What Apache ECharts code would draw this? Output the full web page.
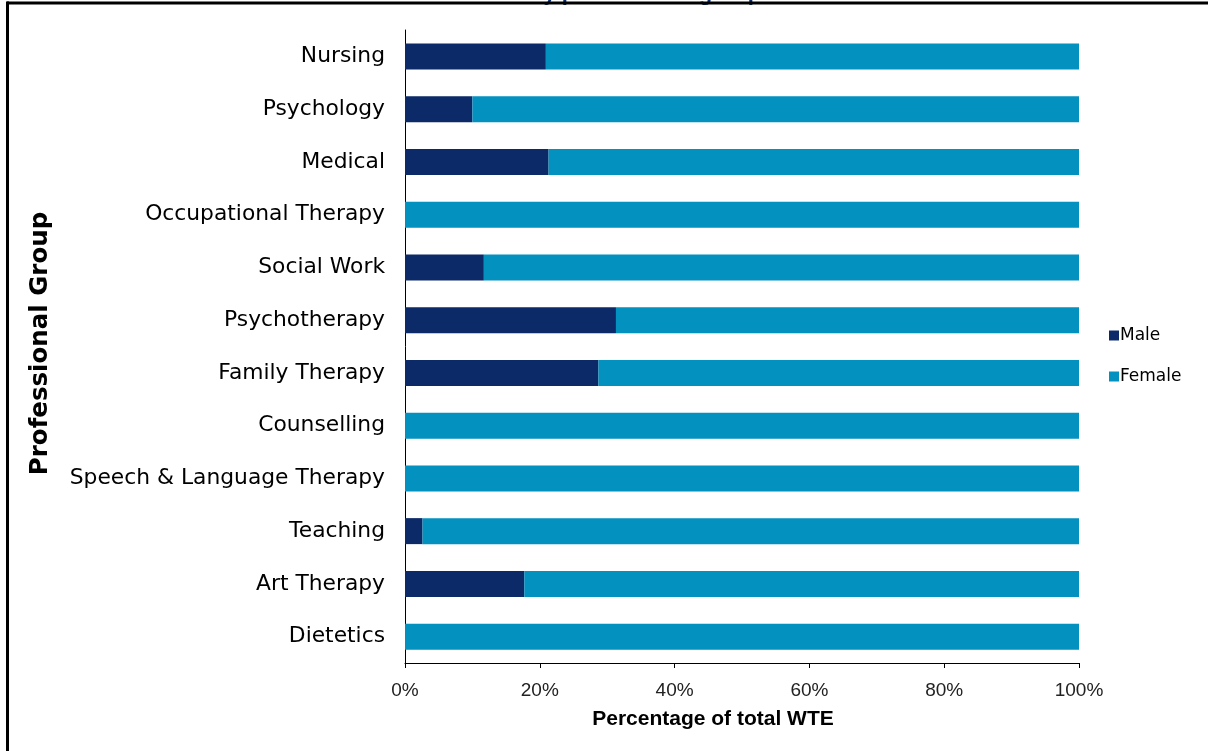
<!DOCTYPE html>
<html><head><meta charset="utf-8">
<script src="https://cdn.jsdelivr.net/npm/echarts@6/dist/echarts.min.js"></script>
<style>html,body{margin:0;padding:0;background:#fff}#c{width:1208px;height:751px}</style>
</head><body><div id="c"></div>
<script>
const categories = ['Nursing','Psychology','Medical','Occupational Therapy','Social Work','Psychotherapy','Family Therapy','Counselling','Speech & Language Therapy','Teaching','Art Therapy','Dietetics'];
const maleValues = [20.9, 10.0, 21.3, 0, 11.7, 31.3, 28.7, 0, 0, 2.6, 17.7, 0];
const femaleValues = [79.1, 90.0, 78.7, 100, 88.3, 68.7, 71.3, 100, 100, 97.4, 82.3, 100];
const xTicks = [0, 20, 40, 60, 80, 100];

const chart = echarts.init(document.getElementById('c'));
chart.setOption({
  animation: false,
  backgroundColor: '#fff',
  title: {
    text: 'Gender by professional group',
    left: 'center', top: -22,
    textStyle: { color: '#0B2A67', fontSize: 22, fontWeight: 'bold', fontFamily: 'Liberation Sans' }
  },
  graphic: [
    { type: 'line', shape: { x1: 7, y1: 3, x2: 1208, y2: 3 }, style: { stroke: '#000', lineWidth: 3 }, z: 100 },
    { type: 'line', shape: { x1: 7.5, y1: 1.5, x2: 7.5, y2: 751 }, style: { stroke: '#000', lineWidth: 3 }, z: 100 }
  ],
  grid: { left: 405, right: 129, top: 30, bottom: 88, containLabel: false },
  legend: {
    orient: 'vertical', left: 1104, top: 322, itemGap: 24,
    itemWidth: 10, itemHeight: 10, icon: 'rect',
    textStyle: { fontSize: 17, color: '#000', fontFamily: 'DejaVu Sans', padding: [0,0,0,-4] },
    data: ['Male', 'Female']
  },
  xAxis: {
    type: 'value', min: 0, max: 100, interval: 20,
    name: 'Percentage of total WTE', nameLocation: 'middle', nameGap: 46,
    nameTextStyle: { fontSize: 21, fontWeight: 'bold', color: '#000', fontFamily: 'Liberation Sans', padding: [0, 58, 0, 0] },
    axisLine: { show: true, lineStyle: { color: '#000', width: 1 } },
    axisTick: { show: true, length: 5, lineStyle: { color: '#000' } },
    axisLabel: { formatter: v => xTicks.includes(v) ? v + '%' : '', fontSize: 19, color: '#222', margin: 18, fontFamily: 'Liberation Sans' },
    splitLine: { show: false }
  },
  yAxis: {
    type: 'category', data: categories, inverse: true,
    name: 'Professional Group', nameLocation: 'middle', nameGap: 352, nameRotate: 90,
    nameTextStyle: { fontSize: 24.5, fontWeight: 'bold', color: '#000', fontFamily: 'DejaVu Sans', padding: [0, 0, 0, 6] },
    axisLine: { show: true, lineStyle: { color: '#000', width: 1 } },
    axisTick: { show: false },
    axisLabel: { fontSize: 21.8, color: '#000', margin: 20, fontFamily: 'DejaVu Sans' }
  },
  series: [
    { name: 'Male', type: 'bar', stack: 'g', data: maleValues, barWidth: 26, itemStyle: { color: '#0B2A67' } },
    { name: 'Female', type: 'bar', stack: 'g', data: femaleValues, barWidth: 26, itemStyle: { color: '#0391C0' } }
  ]
});
</script></body></html>
